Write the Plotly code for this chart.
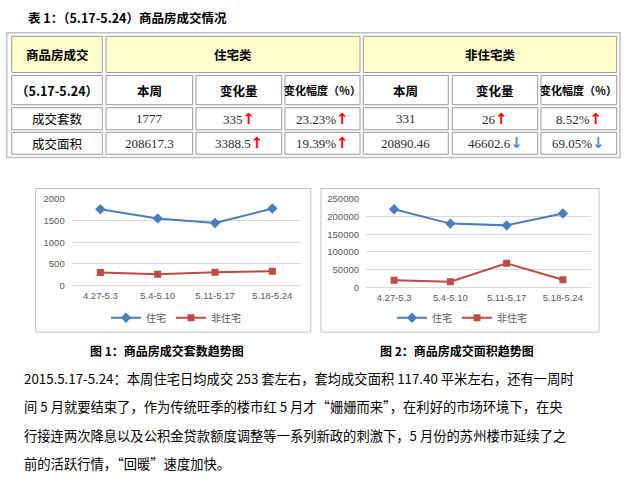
import plotly.graph_objects as go

W, H = 630, 488
def X(p): return p / W
def Y(p): return 1 - p / H

# ---------------- data ----------------
categories = ["4.27-5.3", "5.4-5.10", "5.11-5.17", "5.18-5.24"]
count_residential = [1759, 1549, 1442, 1777]
count_nonresidential = [301, 263, 305, 331]
area_residential = [220500, 180000, 175000, 208617.3]
area_nonresidential = [19500, 15500, 67493.06, 20890.46]
series_names = ["住宅", "非住宅"]

table_title = "表 1：（5.17-5.24）商品房成交情况"
header_top = ["商品房成交", "住宅类", "非住宅类"]
header_sub = ["（5.17-5.24）", "本周", "变化量", "变化幅度（％）", "本周", "变化量", "变化幅度（％）"]
row_labels = ["成交套数", "成交面积"]
res_week = ["1777", "208617.3"]
res_change = ["335", "3388.5"]
res_pct = ["23.23%", "19.39%"]
res_dir = ["up", "up"]
non_week = ["331", "20890.46"]
non_change = ["26", "46602.6"]
non_pct = ["8.52%", "69.05%"]
non_dir = ["up", "down"]

captions = ["图 1：商品房成交套数趋势图", "图 2：商品房成交面积趋势图"]
paragraph = [
    "2015.5.17-5.24：本周住宅日均成交 253 套左右，套均成交面积 117.40 平米左右，还有一周时",
    "间 5 月就要结束了，作为传统旺季的楼市红 5 月才“姗姗而来”，在利好的市场环境下，在央",
    "行接连两次降息以及公积金贷款额度调整等一系列新政的刺激下，5 月份的苏州楼市延续了之",
    "前的活跃行情，“回暖”速度加快。",
]

BLUE = "#4a7ebb"
RED = "#be4b48"
CJK = "Noto Sans CJK SC"
SERIF = "Liberation Serif"

fig = go.Figure()

# ---------------- charts ----------------
fig.add_trace(go.Scatter(x=categories, y=count_residential, name=series_names[0], mode="lines+markers",
                         line=dict(color=BLUE, width=2), marker=dict(symbol="diamond", size=8, color=BLUE),
                         xaxis="x", yaxis="y", legend="legend"))
fig.add_trace(go.Scatter(x=categories, y=count_nonresidential, name=series_names[1], mode="lines+markers",
                         line=dict(color=RED, width=2), marker=dict(symbol="square", size=7, color=RED),
                         xaxis="x", yaxis="y", legend="legend"))
fig.add_trace(go.Scatter(x=categories, y=area_residential, name=series_names[0], mode="lines+markers",
                         line=dict(color=BLUE, width=2), marker=dict(symbol="diamond", size=8, color=BLUE),
                         xaxis="x2", yaxis="y2", legend="legend2"))
fig.add_trace(go.Scatter(x=categories, y=area_nonresidential, name=series_names[1], mode="lines+markers",
                         line=dict(color=RED, width=2), marker=dict(symbol="square", size=7, color=RED),
                         xaxis="x2", yaxis="y2", legend="legend2"))

tickfont = dict(family="Liberation Sans", size=9.5, color="#595959")
grid = "#d9d9d9"
xcommon = dict(type="category", range=[-0.5, 3.5], showgrid=False, zeroline=False, showline=False,
               tickfont=tickfont, ticks="", ticklabelstandoff=3, fixedrange=True)
ycommon = dict(showgrid=True, gridcolor=grid, gridwidth=1, zeroline=True, zerolinecolor=grid,
               zerolinewidth=1, showline=False, tickfont=tickfont, ticks="", ticklabelstandoff=6,
               fixedrange=True, tickformat="d")

layout = dict(
    width=W, height=H, margin=dict(l=0, r=0, t=0, b=0),
    paper_bgcolor="white", plot_bgcolor="white",
    xaxis=dict(domain=[X(71.7), X(301)], anchor="y", **xcommon),
    yaxis=dict(domain=[Y(286), Y(197.3)], anchor="x", range=[0, 2000.5], dtick=500, **ycommon),
    xaxis2=dict(domain=[X(366), X(591)], anchor="y2", **xcommon),
    yaxis2=dict(domain=[Y(287.7), Y(197.3)], anchor="x2", range=[0, 250050], dtick=50000, **ycommon),
    legend=dict(orientation="h", x=X(176), xanchor="center", y=Y(319), yanchor="middle",
                font=dict(family=CJK, size=10, color="#595959"), itemwidth=30,
                bgcolor="rgba(0,0,0,0)", tracegroupgap=0),
    legend2=dict(orientation="h", x=X(462), xanchor="center", y=Y(319), yanchor="middle",
                 font=dict(family=CJK, size=10, color="#595959"), itemwidth=30,
                 bgcolor="rgba(0,0,0,0)", tracegroupgap=0),
    showlegend=True,
)

shapes = []
annotations = []

def rect(x0, y0, x1, y1, line="#999999", fill=None, width=1):
    shapes.append(dict(type="rect", xref="paper", yref="paper",
                       x0=X(x0), x1=X(x1), y0=Y(y1), y1=Y(y0),
                       line=dict(color=line, width=width),
                       fillcolor=fill if fill else "rgba(0,0,0,0)", layer="below"))

def text(x, y, s, size=12, color="black", family=CJK, xanchor="center", bold=False):
    annotations.append(dict(xref="paper", yref="paper", x=X(x), y=Y(y), text=(f"<b>{s}</b>" if bold else s),
                            showarrow=False, xanchor=xanchor, yanchor="middle",
                            font=dict(family=family, size=size, color=color)))

# chart frames
rect(35.7, 186.7, 310.7, 333.7, line="#bfbfbf")
rect(321, 186.7, 599, 333.7, line="#bfbfbf")

# ---------------- table ----------------
text(26, 12, table_title, size=12.5, xanchor="left", bold=True)
rect(6.7, 27.3, 620, 155, line="#c0c0c0", width=1.5)

YELLOW = "#ffffcc"
row1 = (31, 68)
row2 = (71, 101)
rows_data = [(104, 126.7), (129.3, 151.7)]
top_cols = [(11.7, 102.3), (106, 360), (363.3, 616.7)]
cols = [(11.7, 102.3), (106, 192.7), (196, 281.7), (285, 360),
        (363.3, 448.3), (452.3, 537.7), (541, 616.7)]

for (x0, x1), label in zip(top_cols, header_top):
    rect(x0, row1[0], x1, row1[1], fill=YELLOW)
    text((x0 + x1) / 2, (row1[0] + row1[1]) / 2, label, size=12.5, bold=True)

for i, ((x0, x1), label) in enumerate(zip(cols, header_sub)):
    rect(x0, row2[0], x1, row2[1], fill="white")
    size = 11 if "幅度" in label else 12.5
    text((x0 + x1) / 2, (row2[0] + row2[1]) / 2, label, size=size, bold=True)

def arrow(d):
    if d == "up":
        return "<span style='color:#ff0000;font-family:DejaVu Sans;font-size:15px'><b>↑</b></span>"
    return "<span style='color:#4f8fd6;font-family:DejaVu Sans;font-size:15px'><b>↓</b></span>"

NUM = "#2a2a3a"
for r, (y0, y1) in enumerate(rows_data):
    cy = (y0 + y1) / 2
    for (x0, x1) in cols:
        rect(x0, y0, x1, y1, fill="white")
    text(sum(cols[0]) / 2, cy, row_labels[r], size=12.5)
    cells = [res_week[r], res_change[r] + arrow(res_dir[r]), res_pct[r] + arrow(res_dir[r]),
             non_week[r], non_change[r] + arrow(non_dir[r]), non_pct[r] + arrow(non_dir[r])]
    for c, s in enumerate(cells):
        x0, x1 = cols[c + 1]
        text((x0 + x1) / 2, cy, s, size=13, color=NUM, family=SERIF)

# ---------------- captions & paragraph ----------------
text(166.5, 352, captions[0], size=12, bold=True)
text(456.5, 352, captions[1], size=12, bold=True)

for i, line in enumerate(paragraph):
    text(22, 381 + i * 29, line, size=13.3, xanchor="left")

layout["shapes"] = shapes
layout["annotations"] = annotations
fig.update_layout(**layout)

fig.write_html("out.html", config={"displayModeBar": False},
               post_script="document.body.style.margin='0';document.body.style.overflow='hidden';")
